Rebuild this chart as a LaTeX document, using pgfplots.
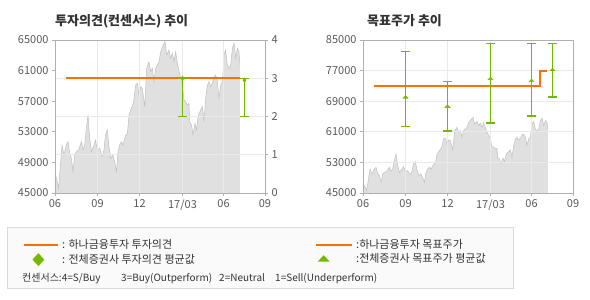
\documentclass[border=0pt]{standalone}
\usepackage{fontspec}
\setmainfont{Noto Sans CJK KR}
\usepackage{pgfplots}
\usepackage{pgfplotstable}
\usetikzlibrary{shapes.geometric}
\pgfplotsset{compat=1.18}
\definecolor{orangeC}{RGB}{255,112,0}
\definecolor{greenC}{RGB}{115,185,0}
\definecolor{areaC}{RGB}{224,224,224}
\definecolor{areaL}{RGB}{192,192,192}
\definecolor{frameC}{RGB}{176,176,176}
\definecolor{gridC}{RGB}{234,234,234}
\definecolor{tickC}{RGB}{90,90,90}
\definecolor{titleC}{RGB}{51,51,51}
\definecolor{legF}{RGB}{250,250,250}
\definecolor{legB}{RGB}{218,218,218}

\pgfplotstableread{
m p
0 47570
0.17 46480
0.26 45610
0.41 49090
0.5 51270
0.64 49970
0.81 51270
0.93 51710
1.05 50190
1.17 49530
1.29 47790
1.41 49970
1.53 50400
1.69 50620
1.89 51710
2.0 50620
2.12 51270
2.24 53460
2.36 55200
2.48 52150
2.6 50400
2.79 51270
2.89 51930
3.03 50620
3.19 50840
3.36 49750
3.5 50620
3.6 52580
3.74 53240
3.84 51270
3.98 49530
4.14 49970
4.26 49090
4.39 47790
4.5 50400
4.62 51270
4.74 51710
4.86 51270
5.05 52580
5.17 52800
5.29 55200
5.41 55850
5.6 56720
5.76 59120
5.89 59340
6.0 57810
6.12 58900
6.24 58690
6.41 56280
6.55 61300
6.71 62160
6.84 60860
6.96 61300
7.07 59550
7.19 61300
7.43 62160
7.55 63470
7.74 64350
7.86 64780
7.98 63040
8.14 63690
8.26 62610
8.39 63260
8.5 62160
8.62 63470
8.74 61960
8.86 60860
8.98 59990
9.1 59120
9.21 57160
9.34 56940
9.46 56500
9.57 56720
9.62 54320
9.76 53880
9.86 52580
10.0 54110
10.1 53240
10.24 55200
10.41 55850
10.53 56280
10.64 54320
10.76 57380
10.89 59120
11.0 59550
11.12 58900
11.24 59340
11.36 60200
11.48 60420
11.6 59550
11.71 57380
11.84 59120
11.96 59550
12.07 63040
12.19 63690
12.31 61730
12.43 61300
12.55 61730
12.67 63910
12.79 64570
12.91 62610
13.03 63910
13.14 63470
13.21 61730
}\price

\pgfplotsset{
  base/.style={scale only axis, width=210pt, height=153pt,
    xmin=0, xmax=15, xtick={0,3.036,6.036,9.107,12.036,15},
    scaled y ticks=false, scaled x ticks=false,
    tick label style={font=\fontsize{11}{12}\selectfont, text=tickC},
    axis line style={frameC, line width=0.8pt}, tick style={frameC, line width=0.8pt},
    major tick length=3pt, tick align=outside,
    xtick pos=bottom,
    /pgf/number format/assume math mode=true, /pgf/number format/1000 sep={},
    grid style={gridC, line width=0.8pt}},
  ebar/.style={draw=greenC, line width=1.3pt, mark=-, mark size=4.5pt, mark options={draw=greenC, line width=1.3pt}},
  legax/.style={hide axis, scale only axis, width=50pt, height=20pt,
    xmin=0, xmax=1, ymin=0, ymax=1, anchor=north west,
    legend style={at={(0,1)}, anchor=north west, draw=none, fill=none,
      inner sep=0pt, row sep=3pt, column sep=3pt,
      nodes={inner sep=0pt, font=\fontsize{11}{12}\selectfont, text=titleC, text height=9pt, text depth=2pt}},
    legend cell align=left}
}

\begin{document}
\begin{tikzpicture}[x=1pt, y=1pt]
\useasboundingbox (0,0) rectangle (590,300);
\fill[white] (0,0) rectangle (590,300);

% ---------- left chart ----------
\begin{axis}[base, at={(55pt,107pt)}, anchor=south west,
  ymin=45000, ymax=65000, ytick={45000,49000,53000,57000,61000,65000},
  ytick pos=left, xticklabels={06,09,12,17/03,06,09}]
\addplot[fill=areaC, draw=none] table[x=m, y=p]{\price} \closedcycle;
\addplot[areaL, line width=0.5pt] table[x=m, y=p]{\price};
\end{axis}
\begin{axis}[base, at={(55pt,107pt)}, anchor=south west,
  ymin=0, ymax=4, ytick={0,1,2,3,4}, ytick pos=right,
  xticklabels={{},{},{},{},{},{}}, xmajorgrids, ymajorgrids]
\addplot[orangeC, line width=2pt] coordinates {(0.76,3) (13.19,3)};
\addplot[ebar] coordinates {(9.107,2) (9.107,3)};
\addplot[ebar] coordinates {(13.536,2) (13.536,3)};
\addplot[only marks, mark=diamond*, mark size=2.2pt, greenC] coordinates {(9.107,3.0) (13.536,2.95)};
\end{axis}

% ---------- right chart ----------
\begin{axis}[base, at={(363pt,107pt)}, anchor=south west,
  ymin=45000, ymax=85000, ytick={45000,53000,61000,69000,77000,85000},
  ytick pos=left, xticklabels={06,09,12,17/03,06,09}]
\addplot[fill=areaC, draw=none] table[x=m, y=p]{\price} \closedcycle;
\addplot[areaL, line width=0.5pt] table[x=m, y=p]{\price};
\end{axis}
\begin{axis}[base, at={(363pt,107pt)}, anchor=south west,
  ymin=45000, ymax=85000, ytick={45000,53000,61000,69000,77000,85000},
  ytick pos=left, yticklabels={{},{},{},{},{},{}},
  xticklabels={{},{},{},{},{},{}}, xmajorgrids, ymajorgrids]
\addplot[orangeC, line width=2pt] coordinates {(0.81,73000) (12.67,73000) (12.67,77000) (13.17,77000)};
\addplot[ebar] coordinates {(3.036,62440) (3.036,81960)};
\addplot[ebar] coordinates {(6.036,61230) (6.036,74240)};
\addplot[ebar] coordinates {(9.107,63310) (9.107,84130)};
\addplot[ebar] coordinates {(12.036,65130) (12.036,84130)};
\addplot[ebar] coordinates {(13.536,70080) (13.536,84130)};
\addplot[only marks, mark=triangle*, mark size=3pt, mark options={yscale=0.6}, greenC]
  coordinates {(3.036,70000) (6.036,67560) (9.107,74850) (12.036,74330) (13.536,77190)};
\end{axis}

% ---------- titles ----------
\node[anchor=base west, inner sep=0pt, font=\fontsize{13}{14}\selectfont\bfseries, text=titleC] at (55,274) {투자의견(컨센서스) 추이};
\node[anchor=base west, inner sep=0pt, font=\fontsize{13}{14}\selectfont\bfseries, text=titleC] at (367,274) {목표주가 추이};

% ---------- legend ----------
\draw[draw=legB, fill=legF] (7.5,11.5) rectangle (513,73);
\begin{axis}[legax, at={(23pt,61pt)}]
\addlegendimage{legend image code/.code={\draw[orangeC, line width=2pt] (0pt,0pt) -- (34pt,0pt);}}
\addlegendentry{: 하나금융투자 투자의견}
\addlegendimage{legend image code/.code={\path[draw=none, fill=none] (0pt,0pt) -- (34pt,0pt); \node[diamond, draw=none, fill=greenC, inner sep=0pt, minimum width=12pt, minimum height=13pt] at (8pt,0pt) {};}}
\addlegendentry{: 전체증권사 투자의견 평균값}
\end{axis}
\begin{axis}[legax, at={(315pt,61pt)}]
\addlegendimage{legend image code/.code={\draw[orangeC, line width=2pt] (0pt,0pt) -- (36pt,0pt);}}
\addlegendentry{:하나금융투자 목표주가}
\addlegendimage{legend image code/.code={\path[draw=none, fill=none] (0pt,0pt) -- (36pt,0pt); \fill[greenC, draw=none] (1.5pt,-3pt) -- (13.5pt,-3pt) -- (7.5pt,3.5pt) -- cycle;}}
\addlegendentry{:전체증권사 목표주가 평균값}
\end{axis}
\begin{scope}[every node/.style={anchor=base west, inner sep=0pt, font=\fontsize{10}{12}\selectfont, text=titleC}]
\node at (22,18.5) {컨센서스:4=S/Buy};
\node at (121,18.5) {3=Buy(Outperform)};
\node at (219,18.5) {2=Neutral};
\node at (275,18.5) {1=Sell(Underperform)};
\end{scope}
\end{tikzpicture}
\end{document}
